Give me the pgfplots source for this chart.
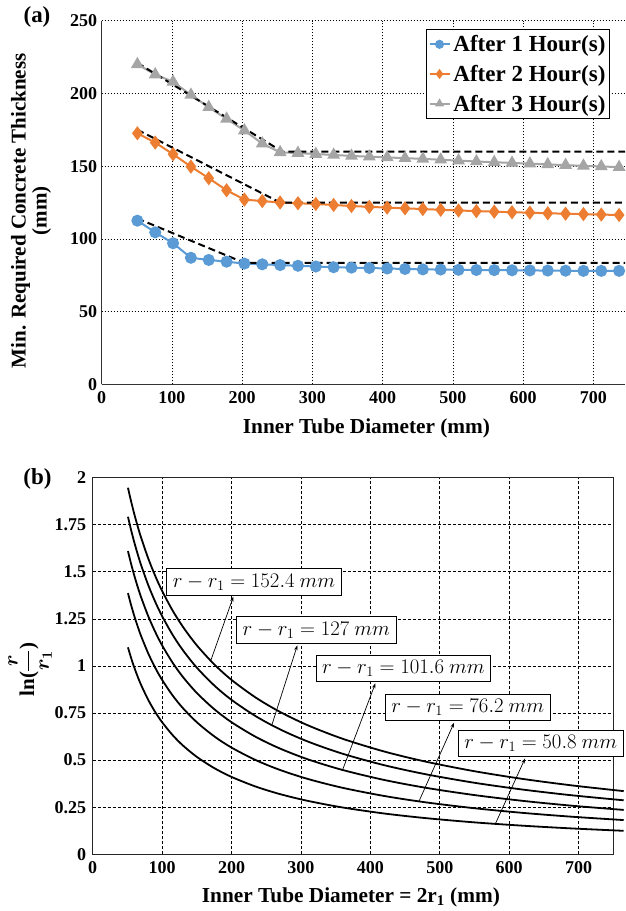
\documentclass[border=0pt]{standalone}
\usepackage{pgfplots}
\pgfplotsset{compat=1.18}
\usepackage{fontspec}
\setmainfont{Liberation Serif}
\usetikzlibrary{arrows.meta}

\definecolor{cblue}{HTML}{5B9BD5}
\definecolor{corange}{HTML}{ED7D31}
\definecolor{cgray}{HTML}{A5A5A5}

\newcommand{\fs}[1]{\fontsize{#1}{#1}\selectfont}
\tikzset{
  lbl/.style={draw=black, fill=white, line width=0.8pt, inner xsep=6pt, inner ysep=5pt, font=\fs{20}},
  lead/.style={line width=0.7pt, -{Stealth[length=5pt, width=3.5pt]}},
  crv/.style={black, line width=1.8pt, smooth, mark=none},
}

\begin{document}
\begin{tikzpicture}
\useasboundingbox (0pt,0pt) rectangle (625pt,-911pt);

% ---------- (a) required concrete thickness ----------
\begin{axis}[
  at={(101.7pt,-384.3pt)}, anchor=south west,
  scale only axis, width=523.3pt, height=363.6pt,
  xmin=0, xmax=745, ymin=0, ymax=250,
  xtick={0,100,...,700}, ytick={0,50,...,250},
  grid=major,
  major grid style={black, line width=0.6pt, dash pattern=on 1.5pt off 1.5pt},
  axis x line*=bottom, axis y line*=left,
  axis line style={-, line width=1.5pt, black!80},
  major tick length=0pt,
  /pgf/number format/assume math mode=true,
  tick label style={font=\fs{18}\bfseries},
  xticklabel style={yshift=-4pt},
  yticklabel style={xshift=-1pt},
  xlabel={Inner Tube Diameter (mm)},
  xlabel style={font=\fs{21.3}\bfseries, at={(axis description cs:0.506,-0.12)}, anchor=center},
  ylabel={Min. Required Concrete Thickness\\(mm)},
  ylabel style={font=\fs{21}\bfseries, align=center, at={(axis description cs:-0.135,0.477)}, anchor=center},
  legend style={at={(0.971,0.977)}, anchor=north east, draw=black, line width=0.8pt,
    font=\fs{23}\bfseries, inner xsep=2pt, inner ysep=4pt, row sep=8pt,
    /tikz/every odd column/.append style={column sep=1pt}},
  legend cell align=left,
  legend image code/.code={
    \draw[mark repeat=2, mark phase=2, #1, line width=1.8pt, mark size=3.6pt]
      plot coordinates {(0pt,0pt) (10pt,0pt) (20pt,0pt)};},
]
\addplot[color=cblue, line width=2pt, mark=*, mark size=5pt] coordinates {
 (50.8,112.5) (76.2,104.5) (101.6,97) (127,87) (152.4,85.5) (177.8,84.3)
 (203.2,83) (228.6,82.5) (254,82) (279.4,81.5) (304.8,81) (330.2,80.5)
 (355.6,80.2) (381,80) (406.4,79.6) (431.8,79.3) (457.2,79) (482.6,78.9)
 (508,78.7) (533.4,78.6) (558.8,78.5) (584.2,78.4) (609.6,78.3) (635,78.2)
 (660.4,78.1) (685.8,78) (711.2,78) (736.6,78)};
\addlegendentry{After 1 Hour(s)}
\addplot[color=corange, line width=2pt, mark=diamond*, mark size=5.5pt] coordinates {
 (50.8,172.6) (76.2,166.2) (101.6,158.2) (127,149.7) (152.4,141.7) (177.8,133.4)
 (203.2,127) (228.6,126) (254,125) (279.4,124.5) (304.8,124) (330.2,123.3)
 (355.6,122.6) (381,122) (406.4,121.5) (431.8,121) (457.2,120.5) (482.6,120)
 (508,119.5) (533.4,119.1) (558.8,118.7) (584.2,118.3) (609.6,118) (635,117.6)
 (660.4,117.3) (685.8,117) (711.2,116.7) (736.6,116.4)};
\addlegendentry{After 2 Hour(s)}
\addplot[color=cgray, line width=2pt, mark=triangle*, mark size=5.5pt] coordinates {
 (50.8,220) (76.2,213) (101.6,208) (127,199) (152.4,190.5) (177.8,182.5)
 (203.2,174.5) (228.6,165.5) (254,159.5) (279.4,159) (304.8,158.3) (330.2,157.7)
 (355.6,157) (381,156.5) (406.4,156) (431.8,155.5) (457.2,155) (482.6,154.4)
 (508,153.8) (533.4,153.2) (558.8,152.7) (584.2,152.2) (609.6,151.7) (635,151.2)
 (660.4,150.7) (685.8,150.2) (711.2,149.8) (736.6,149.3)};
\addlegendentry{After 3 Hour(s)}
% simplified design lines
\addplot[forget plot, black, line width=2pt, dash pattern=on 7pt off 4pt]
  coordinates {(50.8,114) (203.2,83.5) (745,83.5)};
\addplot[forget plot, black, line width=2pt, dash pattern=on 7pt off 4pt]
  coordinates {(50.8,175) (254,125) (745,125)};
\addplot[forget plot, black, line width=2pt, dash pattern=on 7pt off 4pt]
  coordinates {(50.8,221) (257,160) (745,160)};
\end{axis}

% ---------- (b) ln(r/r1) against inner diameter ----------
\begin{axis}[
  at={(92.7pt,-854.3pt)}, anchor=south west,
  scale only axis, width=520.6pt, height=376.8pt,
  xmin=0, xmax=750, ymin=0, ymax=2,
  xtick={0,100,...,700}, ytick={0,0.25,0.5,0.75,1,1.25,1.5,1.75,2},
  grid=major,
  major grid style={black, line width=0.6pt, dash pattern=on 3pt off 2pt},
  axis line style={line width=1.3pt, black!85},
  major tick length=0pt,
  clip=false,
  /pgf/number format/assume math mode=true,
  tick label style={font=\fs{18}\bfseries},
  xticklabel style={yshift=-4pt},
  yticklabel style={xshift=-3pt},
  xlabel={Inner Tube Diameter = 2r\textsubscript{1} (mm)},
  xlabel style={font=\fs{21.3}\bfseries, at={(axis description cs:0.496,-0.113)}, anchor=center},
  ylabel={ln(\raisebox{0.05em}{$\displaystyle\frac{r}{r_1}$})},
  ylabel style={font=\fs{21}\bfseries\boldmath, at={(axis description cs:-0.12,0.49)}, anchor=center},
]
% r - r1 = 152.4 mm
\addplot[crv] coordinates {
 (50.8,1.9459) (55,1.8782) (60,1.8050) (65,1.7386) (70,1.6779) (80,1.5707)
 (90,1.4786) (100,1.3982) (115,1.2948) (130,1.2074) (150,1.1092) (175,1.0086)
 (200,0.9258) (235,0.8316) (270,0.7556) (310,0.6847) (360,0.6134) (420,0.5456)
 (480,0.4917) (550,0.4410) (620,0.3999) (690,0.3659) (765,0.3354)};
% r - r1 = 127 mm
\addplot[crv] coordinates {
 (50.8,1.7918) (55,1.7260) (60,1.6550) (65,1.5908) (70,1.5323) (80,1.4291)
 (90,1.3408) (100,1.2641) (115,1.1659) (130,1.0831) (150,0.9908) (175,0.8967)
 (200,0.8198) (235,0.7328) (270,0.6630) (310,0.5985) (360,0.5339) (420,0.4730)
 (480,0.4248) (550,0.3797) (620,0.3434) (690,0.3134) (765,0.2867)};
% r - r1 = 101.6 mm
\addplot[crv] coordinates {
 (50.8,1.6094) (55,1.5464) (60,1.4786) (65,1.4174) (70,1.3617) (80,1.2641)
 (90,1.1811) (100,1.1092) (115,1.0178) (130,0.9412) (150,0.8564) (175,0.7707)
 (200,0.7011) (235,0.6231) (270,0.5611) (310,0.5041) (360,0.4476) (420,0.3946)
 (480,0.3530) (550,0.3144) (620,0.2835) (690,0.2581) (765,0.2356)};
% r - r1 = 76.2 mm
\addplot[crv] coordinates {
 (50.8,1.3863) (55,1.3274) (60,1.2641) (65,1.2074) (70,1.1560) (80,1.0664)
 (90,0.9908) (100,0.9258) (115,0.8438) (130,0.7758) (150,0.7011) (175,0.6264)
 (200,0.5664) (235,0.4999) (270,0.4476) (310,0.3999) (360,0.3530) (420,0.3096)
 (480,0.2757) (550,0.2446) (620,0.2198) (690,0.1996) (765,0.1817)};
% r - r1 = 50.8 mm
\addplot[crv] coordinates {
 (50.8,1.0986) (55,1.0464) (60,0.9908) (65,0.9412) (70,0.8967) (80,0.8198)
 (90,0.7556) (100,0.7011) (115,0.6332) (130,0.5775) (150,0.5172) (175,0.4578)
 (200,0.4108) (235,0.3593) (270,0.3194) (310,0.2835) (360,0.2486) (420,0.2166)
 (480,0.1920) (550,0.1695) (620,0.1518) (690,0.1374) (765,0.1247)};

% curve labels with leader arrows
\draw[lead] (axis cs:170,1.027) -- (axis cs:202.6,1.367);
\draw[lead] (axis cs:258,0.685) -- (axis cs:294.8,1.109);
\draw[lead] (axis cs:360,0.448) -- (axis cs:407.2,0.907);
\draw[lead] (axis cs:470,0.281) -- (axis cs:520.6,0.698);
\draw[lead] (axis cs:580,0.161) -- (axis cs:622.9,0.509);
\node[lbl] at (axis cs:232.4,1.445) {$r - r_1 = 152.4\ mm$};
\node[lbl] at (axis cs:322.2,1.190) {$r - r_1 = 127\ mm$};
\node[lbl] at (axis cs:447.6,0.988) {$r - r_1 = 101.6\ mm$};
\node[lbl] at (axis cs:540.3,0.779) {$r - r_1 = 76.2\ mm$};
\node[lbl] at (axis cs:645.5,0.589) {$r - r_1 = 50.8\ mm$};
\end{axis}

\node[font=\fs{23}\bfseries] at (37pt,-17pt) {(a)};
\node[font=\fs{23}\bfseries] at (37.5pt,-479pt) {(b)};
\end{tikzpicture}
\end{document}
